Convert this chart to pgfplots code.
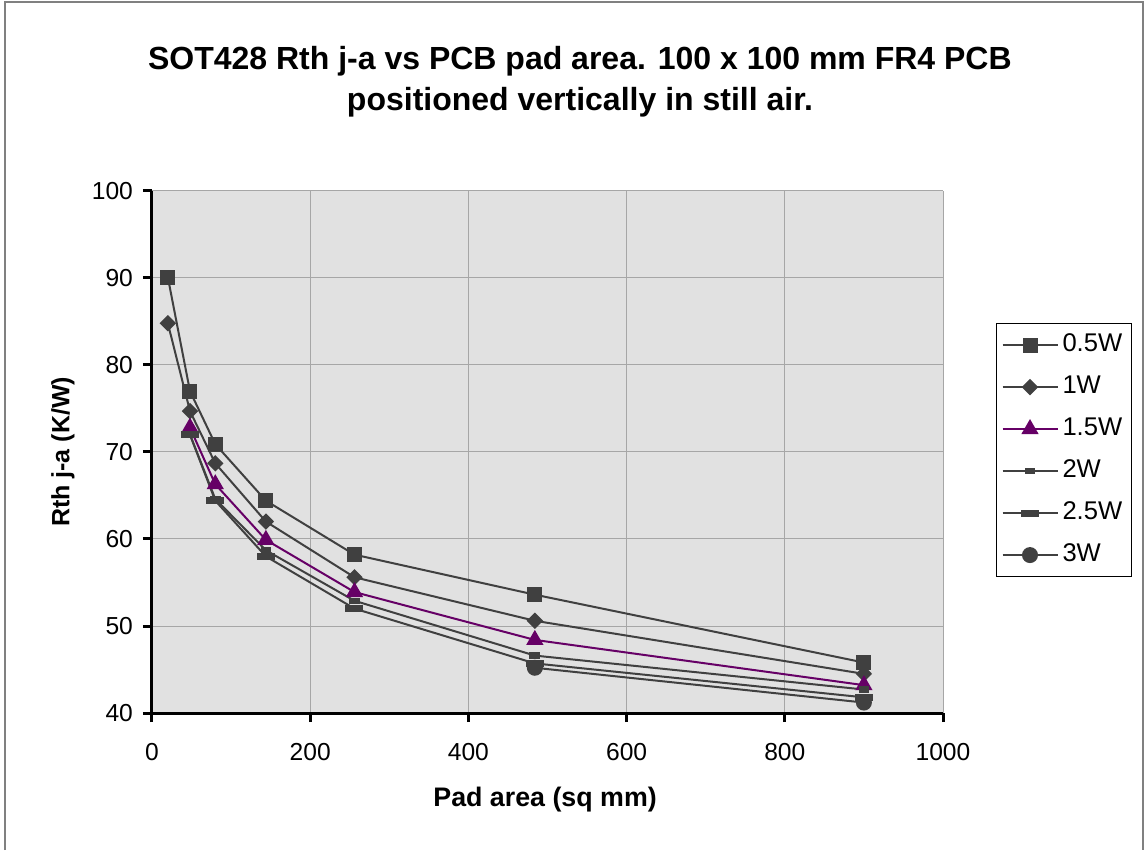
\documentclass[border=0pt]{standalone}
\usepackage{fontspec}
\setmainfont{Liberation Sans}
\usepackage{pgfplots}
\pgfplotsset{compat=1.18}

\definecolor{series}{HTML}{404040}
\definecolor{purp}{HTML}{660066}
\definecolor{plotbg}{HTML}{E1E1E1}
\definecolor{gridc}{HTML}{A6A6A6}
\definecolor{framec}{HTML}{808080}

\begin{document}
\begin{tikzpicture}
% page extent (origin = lower left corner of the plot area)
\path (-76pt,-69pt) rectangle (497pt,356.5pt);
\draw[framec, line width=0.75pt] (-73.5pt,-68.5pt) -- (-73.5pt,355.5pt) -- (495.5pt,355.5pt) -- (495.5pt,-68.5pt);

\begin{axis}[
    at={(0,0)}, anchor=south west,
    scale only axis, width=395.5pt, height=261pt,
    xmin=0, xmax=1000, ymin=40, ymax=100,
    xtick={0,200,...,1000}, ytick={40,50,...,100},
    axis background/.style={fill=plotbg},
    grid=major, major grid style={gridc, line width=0.5pt},
    axis x line*=bottom, axis y line*=left,
    axis line style={-, black, line width=1.5pt},
    tick align=outside, major tick length=4.5pt,
    every tick/.style={black, line width=1.5pt},
    /pgf/number format/assume math mode=true,
    /pgf/number format/1000 sep={},
    ticklabel style={font=\fontsize{12.3}{14}\selectfont},
    xticklabel style={yshift=-7pt},
    yticklabel style={xshift=-1.5pt},
    every axis title shift=0pt,
    title={SOT428 Rth j-a vs PCB pad area. 100 x 100 mm FR4 PCB\\positioned vertically in still air.},
    title style={at={(axis description cs:0.541,1.209)}, anchor=center, align=center,
        font=\bfseries\fontsize{16}{20.5}\selectfont},
    xlabel={Pad area (sq mm)},
    xlabel style={at={(axis description cs:0.497,-0.166)}, anchor=center,
        font=\bfseries\fontsize{13.4}{15}\selectfont},
    ylabel={Rth j-a (K/W)},
    ylabel style={at={(axis description cs:-0.1125,0.5)}, anchor=center,
        font=\bfseries\fontsize{12.5}{15}\selectfont},
    legend style={at={(1.067,0.747)}, anchor=north west, draw=black, line width=0.5pt,
        fill=white, font=\fontsize{12.8}{15}\selectfont,
        inner xsep=2.5pt, inner ysep=5pt, row sep=9.5pt,
        nodes={inner xsep=2pt, inner ysep=0pt, text height=9pt, text depth=2.5pt}},
    legend cell align=left,
    legend image code/.code={\draw[#1, mark repeat=2, mark phase=2]
        plot coordinates {(0pt,0pt) (13.75pt,0pt) (27.5pt,0pt)};},
]
\addplot[color=series, line width=1pt, mark=square*, mark size=3.25pt,
    mark options={solid, fill=series}]
    coordinates {(20,90.1) (48,77.0) (80,70.9) (144,64.4) (256,58.2) (484,53.6) (900,45.8)};
\addlegendentry{0.5W}
\addplot[color=series, line width=1pt, mark=diamond*, mark size=3.4pt,
    mark options={solid, fill=series, xscale=1.33}]
    coordinates {(20,84.8) (48,74.7) (80,68.7) (144,62.0) (256,55.6) (484,50.6) (900,44.5)};
\addlegendentry{1W}
\addplot[color=purp, line width=1pt, mark=triangle*, mark size=4pt,
    mark options={solid, fill=purp}]
    coordinates {(48,72.8) (80,66.3) (144,59.9) (256,53.9) (484,48.4) (900,43.2)};
\addlegendentry{1.5W}
\addplot[color=series, line width=1pt, mark=square*, mark size=2.2pt,
    mark options={solid, fill=series, yscale=0.5}]
    coordinates {(48,72.0) (80,64.6) (144,58.7) (256,52.9) (484,46.6) (900,42.7)};
\addlegendentry{2W}
\addplot[color=series, line width=1pt, mark=square*, mark size=4pt,
    mark options={solid, fill=series, yscale=0.32}]
    coordinates {(48,72.0) (80,64.4) (144,58.0) (256,52.0) (484,45.7) (900,41.8)};
\addlegendentry{2.5W}
\addplot[color=series, line width=1pt, mark=*, mark size=3.5pt,
    mark options={solid, fill=series}]
    coordinates {(484,45.2) (900,41.2)};
\addlegendentry{3W}
\end{axis}
\end{tikzpicture}
\end{document}
